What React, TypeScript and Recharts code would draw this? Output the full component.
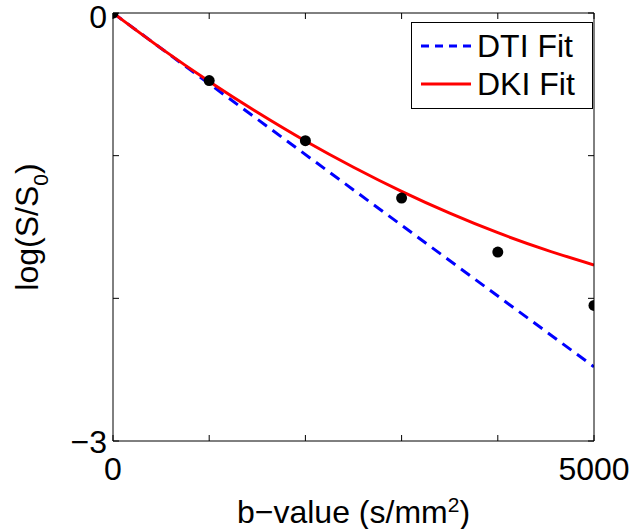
import React from 'react';
import {
  ComposedChart,
  Line,
  Scatter,
  XAxis,
  YAxis,
} from 'recharts';

// b-values (s/mm^2) of the acquired signal
const bValues = [0, 1000, 2000, 3000, 4000, 5000];
// measured log(S/S0)
const measured = [0, -0.474, -0.895, -1.297, -1.676, -2.05];

// DKI fit curve sampled along b
const fitB = [0, 500, 1000, 1500, 2000, 2500, 3000, 3500, 4000, 4500, 5000];
const dkiFit = [0, -0.248, -0.48, -0.696, -0.897, -1.081, -1.25, -1.403, -1.54, -1.66, -1.766];

// DTI fit is a straight line
const dtiB = [0, 5000];
const dtiFit = [0, -2.48];

const xTicks = [0, 1000, 2000, 3000, 4000, 5000];
const yTicks = [-3, -2, -1, 0];
const xTickLabels: Record<number, string> = { 0: '0', 5000: '5000' };
const yTickLabels: Record<number, string> = { 0: '0', '-3': '\u22123' };

const FONT = '"Liberation Sans", Arial, Helvetica, sans-serif';
const FS = 32;

const measuredData = bValues.map((b, i) => ({ b, y: measured[i] }));
const dkiData = fitB.map((b, i) => ({ b, y: dkiFit[i] }));
const dtiData = dtiB.map((b, i) => ({ b, y: dtiFit[i] }));

const BottomTick = (props: any) => {
  const { x, y, payload } = props;
  const label = xTickLabels[payload.value];
  return (
    <g>
      <line x1={x} x2={x} y1={y} y2={y - 6} stroke="#000" strokeWidth={1} />
      {label && (
        <text x={x} y={y + 39} textAnchor="middle" fontSize={FS} fontFamily={FONT} fill="#000">
          {label}
        </text>
      )}
    </g>
  );
};

const TopTick = (props: any) => {
  const { x, y } = props;
  return <line x1={x} x2={x} y1={y} y2={y + 6} stroke="#000" strokeWidth={1} />;
};

const LeftTick = (props: any) => {
  const { x, y, payload } = props;
  const label = yTickLabels[payload.value];
  // top label sits a little lower so it stays inside the picture
  const dy = payload.value === 0 ? 15 : 12;
  return (
    <g>
      <line x1={x} x2={x + 6} y1={y} y2={y} stroke="#000" strokeWidth={1} />
      {label && (
        <text x={x - 6} y={y + dy} textAnchor="end" fontSize={FS} fontFamily={FONT} fill="#000">
          {label}
        </text>
      )}
    </g>
  );
};

const RightTick = (props: any) => {
  const { x, y } = props;
  return <line x1={x} x2={x - 6} y1={y} y2={y} stroke="#000" strokeWidth={1} />;
};

const XLabel = (props: any) => {
  const { viewBox } = props;
  const cx = viewBox.x + viewBox.width / 2;
  return (
    <text x={cx} y={523} textAnchor="middle" fontSize={FS} fontFamily={FONT} fill="#000">
      b{'\u2212'}value (s/mm
      <tspan dy={-11} fontSize={21}>2</tspan>
      <tspan dy={11}>)</tspan>
    </text>
  );
};

const YLabel = (props: any) => {
  const { viewBox } = props;
  const cy = viewBox.y + viewBox.height / 2;
  const bx = 38;
  return (
    <text
      x={bx}
      y={cy}
      transform={`rotate(-90, ${bx}, ${cy})`}
      textAnchor="middle"
      fontSize={FS}
      fontFamily={FONT}
      fill="#000"
    >
      log(S/S
      <tspan dy={10} fontSize={21}>0</tspan>
      <tspan dy={-10}>)</tspan>
    </text>
  );
};

const FitLegend = () => (
  <svg width={182} height={87} style={{ display: 'block' }}>
    <rect x={0.5} y={0.5} width={181} height={86} fill="#fff" stroke="#000" strokeWidth={1} />
    <line x1={10} x2={60} y1={24} y2={24} stroke="#0000ff" strokeWidth={3} strokeDasharray="8 6" />
    <text x={66} y={35} fontSize={FS} fontFamily={FONT} fill="#000">DTI Fit</text>
    <line x1={10} x2={60} y1={62} y2={62} stroke="#ff0000" strokeWidth={3} />
    <text x={66} y={73} fontSize={FS} fontFamily={FONT} fill="#000">DKI Fit</text>
  </svg>
);

const App: React.FC = () => {
  return (
    <div style={{ position: 'absolute', left: 0, top: 0, width: 632, height: 529, background: '#fff' }}>
      <ComposedChart width={632} height={529} margin={{ top: 12, right: 37, bottom: 0, left: 0 }}>
        <XAxis
          dataKey="b"
          type="number"
          domain={[0, 5000]}
          ticks={xTicks}
          allowDataOverflow
          height={88}
          stroke="#000"
          tickSize={0}
          tickMargin={0}
          tickLine={false}
          tick={<BottomTick />}
          label={<XLabel />}
        />
        <XAxis
          xAxisId="top"
          orientation="top"
          dataKey="b"
          type="number"
          domain={[0, 5000]}
          ticks={xTicks}
          allowDataOverflow
          height={1}
          axisLine={{ stroke: '#000' }}
          tickSize={0}
          tickMargin={0}
          tickLine={false}
          tick={<TopTick />}
        />
        <YAxis
          type="number"
          domain={[-3, 0]}
          ticks={yTicks}
          allowDataOverflow
          width={113}
          stroke="#000"
          tickSize={0}
          tickMargin={0}
          tickLine={false}
          tick={<LeftTick />}
          label={<YLabel />}
        />
        <YAxis
          yAxisId="right"
          orientation="right"
          type="number"
          domain={[-3, 0]}
          ticks={yTicks}
          allowDataOverflow
          width={1}
          axisLine={{ stroke: '#000' }}
          tickSize={0}
          tickMargin={0}
          tickLine={false}
          tick={<RightTick />}
        />
        {/* invisible series so the top/right frame axes are bound */}
        <Line
          data={measuredData}
          dataKey="y"
          xAxisId="top"
          yAxisId="right"
          stroke="none"
          dot={false}
          activeDot={false}
          isAnimationActive={false}
        />
        <Line
          data={dtiData}
          dataKey="y"
          type="linear"
          stroke="#0000ff"
          strokeWidth={3}
          strokeDasharray="11 7"
          dot={false}
          isAnimationActive={false}
        />
        <Line
          data={dkiData}
          dataKey="y"
          type="monotone"
          stroke="#ff0000"
          strokeWidth={3}
          dot={false}
          isAnimationActive={false}
        />
        <Scatter
          data={measuredData}
          dataKey="y"
          fill="#000"
          shape={(p: any) => <circle cx={p.cx} cy={p.cy} r={5.5} fill="#000" />}
          isAnimationActive={false}
        />
      </ComposedChart>
      <div style={{ position: 'absolute', left: 411, top: 22 }}>
        <FitLegend />
      </div>
    </div>
  );
};

export default App;
